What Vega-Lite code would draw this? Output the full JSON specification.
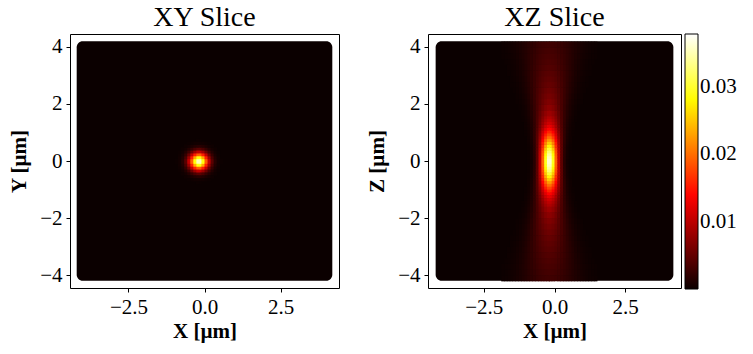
{
 "$schema": "https://vega.github.io/schema/vega-lite/v6.json",
 "background": "white",
 "padding": {"left": 8, "top": 3, "right": 5, "bottom": 3},
 "spacing": 26,
 "config": {
  "font": "Liberation Serif",
  "view": {"stroke": "black", "strokeWidth": 1},
  "axis": {"labelFont": "Liberation Serif", "labelFontSize": 21, "labelColor": "black", "titleFont": "Liberation Serif", "titleFontSize": 21, "titleFontWeight": "bold", "titleColor": "black", "tickColor": "black", "tickSize": 4, "domain": false, "grid": false, "labelPadding": 4},
  "axisX": {"titlePadding": 3},
  "axisY": {"titlePadding": 10},
  "title": {"font": "Liberation Serif", "fontSize": 28, "fontWeight": "normal", "color": "black", "offset": 2},
  "legend": {"labelFont": "Liberation Serif", "labelFontSize": 21, "labelColor": "black", "gradientStrokeColor": "black", "gradientStrokeWidth": 1, "labelOffset": 15, "padding": 0}
 },
 "datasets": {
  "xy": [
   {"x":-0.2,"y":0,"v":0.03514},{"x":-0.2,"y":0.1,"v":0.02858},{"x":-0.2,"y":0.2,"v":0.01891},{"x":-0.2,"y":0.3,"v":0.01017},{"x":-0.2,"y":0.4,"v":0.00445},{"x":-0.2,"y":0.5,"v":0.00158},{"x":-0.2,"y":0.6,"v":0.00046},{"x":-0.2,"y":0.7,"v":0.00011},
   {"x":-0.1,"y":0,"v":0.02858},{"x":-0.1,"y":0.1,"v":0.02325},{"x":-0.1,"y":0.2,"v":0.01538},{"x":-0.1,"y":0.3,"v":0.00827},{"x":-0.1,"y":0.4,"v":0.00362},{"x":-0.1,"y":0.5,"v":0.00129},{"x":-0.1,"y":0.6,"v":0.00037},
   {"x":0,"y":0,"v":0.01891},{"x":0,"y":0.1,"v":0.01538},{"x":0,"y":0.2,"v":0.01017},{"x":0,"y":0.3,"v":0.00547},{"x":0,"y":0.4,"v":0.00239},{"x":0,"y":0.5,"v":0.00085},{"x":0,"y":0.6,"v":0.00025},
   {"x":0.1,"y":0,"v":0.01017},{"x":0.1,"y":0.1,"v":0.00827},{"x":0.1,"y":0.2,"v":0.00547},{"x":0.1,"y":0.3,"v":0.00295},{"x":0.1,"y":0.4,"v":0.00129},{"x":0.1,"y":0.5,"v":0.00046},{"x":0.1,"y":0.6,"v":0.00013},
   {"x":0.2,"y":0,"v":0.00445},{"x":0.2,"y":0.1,"v":0.00362},{"x":0.2,"y":0.2,"v":0.00239},{"x":0.2,"y":0.3,"v":0.00129},{"x":0.2,"y":0.4,"v":0.00056},{"x":0.2,"y":0.5,"v":0.0002},
   {"x":0.3,"y":0,"v":0.00158},{"x":0.3,"y":0.1,"v":0.00129},{"x":0.3,"y":0.2,"v":0.00085},{"x":0.3,"y":0.3,"v":0.00046},{"x":0.3,"y":0.4,"v":0.0002},
   {"x":0.4,"y":0,"v":0.00046},{"x":0.4,"y":0.1,"v":0.00037},{"x":0.4,"y":0.2,"v":0.00025},{"x":0.4,"y":0.3,"v":0.00013},
   {"x":0.5,"y":0,"v":0.00011}
  ],
  "xzn": [
   {"x":-0.2,"z":0,"v":0.03598},{"x":-0.1,"z":0,"v":0.02927},{"x":0,"z":0,"v":0.01937},{"x":0.1,"z":0,"v":0.01043},{"x":0.2,"z":0,"v":0.00457},{"x":0.3,"z":0,"v":0.00163},{"x":0.4,"z":0,"v":0.00047},{"x":0.5,"z":0,"v":0.00011},
   {"x":-0.2,"z":0.1,"v":0.03533},{"x":-0.1,"z":0.1,"v":0.0288},{"x":0,"z":0.1,"v":0.01915},{"x":0.1,"z":0.1,"v":0.01037},{"x":0.2,"z":0.1,"v":0.00459},{"x":0.3,"z":0.1,"v":0.00165},{"x":0.4,"z":0.1,"v":0.00049},{"x":0.5,"z":0.1,"v":0.00012},
   {"x":-0.2,"z":0.2,"v":0.03408},{"x":-0.1,"z":0.2,"v":0.0279},{"x":0,"z":0.2,"v":0.01869},{"x":0.1,"z":0.2,"v":0.01026},{"x":0.2,"z":0.2,"v":0.0046},{"x":0.3,"z":0.2,"v":0.00169},{"x":0.4,"z":0.2,"v":0.00051},{"x":0.5,"z":0.2,"v":0.00013},
   {"x":-0.2,"z":0.3,"v":0.03231},{"x":-0.1,"z":0.3,"v":0.02661},{"x":0,"z":0.3,"v":0.01804},{"x":0.1,"z":0.3,"v":0.01006},{"x":0.2,"z":0.3,"v":0.00462},{"x":0.3,"z":0.3,"v":0.00175},{"x":0.4,"z":0.3,"v":0.00055},{"x":0.5,"z":0.3,"v":0.00014},
   {"x":-0.2,"z":0.4,"v":0.03014},{"x":-0.1,"z":0.4,"v":0.02499},{"x":0,"z":0.4,"v":0.01719},{"x":0.1,"z":0.4,"v":0.0098},{"x":0.2,"z":0.4,"v":0.00463},{"x":0.3,"z":0.4,"v":0.00182},{"x":0.4,"z":0.4,"v":0.00059},{"x":0.5,"z":0.4,"v":0.00016},
   {"x":-0.2,"z":0.5,"v":0.0277},{"x":-0.1,"z":0.5,"v":0.02317},{"x":0,"z":0.5,"v":0.01619},{"x":0.1,"z":0.5,"v":0.00946},{"x":0.2,"z":0.5,"v":0.00463},{"x":0.3,"z":0.5,"v":0.00189},{"x":0.4,"z":0.5,"v":0.00065},{"x":0.5,"z":0.5,"v":0.00018},
   {"x":-0.2,"z":0.6,"v":0.02513},{"x":-0.1,"z":0.6,"v":0.0212},{"x":0,"z":0.6,"v":0.01509},{"x":0.1,"z":0.6,"v":0.00907},{"x":0.2,"z":0.6,"v":0.00459},{"x":0.3,"z":0.6,"v":0.00197},{"x":0.4,"z":0.6,"v":0.00071},{"x":0.5,"z":0.6,"v":0.00021},
   {"x":-0.2,"z":0.7,"v":0.02255},{"x":-0.1,"z":0.7,"v":0.01921},{"x":0,"z":0.7,"v":0.01393},{"x":0.1,"z":0.7,"v":0.0086},{"x":0.2,"z":0.7,"v":0.00453},{"x":0.3,"z":0.7,"v":0.00203},{"x":0.4,"z":0.7,"v":0.00078},{"x":0.5,"z":0.7,"v":0.00026},
   {"x":-0.2,"z":0.8,"v":0.02006},{"x":-0.1,"z":0.8,"v":0.01725},{"x":0,"z":0.8,"v":0.01276},{"x":0.1,"z":0.8,"v":0.00811},{"x":0.2,"z":0.8,"v":0.00443},{"x":0.3,"z":0.8,"v":0.00209},{"x":0.4,"z":0.8,"v":0.00084},{"x":0.5,"z":0.8,"v":0.0003},
   {"x":-0.2,"z":0.9,"v":0.01777},{"x":-0.1,"z":0.9,"v":0.01543},{"x":0,"z":0.9,"v":0.01162},{"x":0.1,"z":0.9,"v":0.0076},{"x":0.2,"z":0.9,"v":0.00431},{"x":0.3,"z":0.9,"v":0.00212},{"x":0.4,"z":0.9,"v":0.00091},{"x":0.5,"z":0.9,"v":0.00034},{"x":0.6,"z":0.9,"v":0.00011},
   {"x":-0.2,"z":1.0,"v":0.0157},{"x":-0.1,"z":1.0,"v":0.01376},{"x":0,"z":1.0,"v":0.01056},{"x":0.1,"z":1.0,"v":0.0071},{"x":0.2,"z":1.0,"v":0.00418},{"x":0.3,"z":1.0,"v":0.00216},{"x":0.4,"z":1.0,"v":0.00098},{"x":0.5,"z":1.0,"v":0.00039},{"x":0.6,"z":1.0,"v":0.00013},
   {"x":-0.2,"z":1.1,"v":0.0139},{"x":-0.1,"z":1.1,"v":0.01229},{"x":0,"z":1.1,"v":0.0096},{"x":0.1,"z":1.1,"v":0.00663},{"x":0.2,"z":1.1,"v":0.00405},{"x":0.3,"z":1.1,"v":0.00219},{"x":0.4,"z":1.1,"v":0.00104},{"x":0.5,"z":1.1,"v":0.00044},{"x":0.6,"z":1.1,"v":0.00017},
   {"x":-0.2,"z":1.2,"v":0.01238},{"x":-0.1,"z":1.2,"v":0.01103},{"x":0,"z":1.2,"v":0.00877},{"x":0.1,"z":1.2,"v":0.00621},{"x":0.2,"z":1.2,"v":0.00392},{"x":0.3,"z":1.2,"v":0.00221},{"x":0.4,"z":1.2,"v":0.00111},{"x":0.5,"z":1.2,"v":0.0005},{"x":0.6,"z":1.2,"v":0.0002},
   {"x":-0.2,"z":1.3,"v":0.0111},{"x":-0.1,"z":1.3,"v":0.00997},{"x":0,"z":1.3,"v":0.00805},{"x":0.1,"z":1.3,"v":0.00584},{"x":0.2,"z":1.3,"v":0.0038},{"x":0.3,"z":1.3,"v":0.00222},{"x":0.4,"z":1.3,"v":0.00117},{"x":0.5,"z":1.3,"v":0.00056},{"x":0.6,"z":1.3,"v":0.00023},
   {"x":-0.2,"z":1.4,"v":0.01005},{"x":-0.1,"z":1.4,"v":0.0091},{"x":0,"z":1.4,"v":0.00745},{"x":0.1,"z":1.4,"v":0.00552},{"x":0.2,"z":1.4,"v":0.00371},{"x":0.3,"z":1.4,"v":0.00226},{"x":0.4,"z":1.4,"v":0.00124},{"x":0.5,"z":1.4,"v":0.00061},{"x":0.6,"z":1.4,"v":0.00028},{"x":0.7,"z":1.4,"v":0.00011},
   {"x":-0.2,"z":1.5,"v":0.0092},{"x":-0.1,"z":1.5,"v":0.00838},{"x":0,"z":1.5,"v":0.00696},{"x":0.1,"z":1.5,"v":0.00527},{"x":0.2,"z":1.5,"v":0.00364},{"x":0.3,"z":1.5,"v":0.00228},{"x":0.4,"z":1.5,"v":0.00131},{"x":0.5,"z":1.5,"v":0.00068},{"x":0.6,"z":1.5,"v":0.00032},{"x":0.7,"z":1.5,"v":0.00014}
  ],
  "xzf": [
   {"x":-0.2,"z":1.6,"v":0.00821},{"x":-0.1,"z":1.6,"v":0.00754},{"x":0,"z":1.6,"v":0.00639},{"x":0.1,"z":1.6,"v":0.00497},{"x":0.2,"z":1.6,"v":0.00356},{"x":0.3,"z":1.6,"v":0.00234},{"x":0.4,"z":1.6,"v":0.00142},{"x":0.5,"z":1.6,"v":0.00079},{"x":0.6,"z":1.6,"v":0.00041},{"x":0.7,"z":1.6,"v":0.00019},
   {"x":-0.2,"z":1.8,"v":0.00725},{"x":-0.1,"z":1.8,"v":0.00675},{"x":0,"z":1.8,"v":0.00583},{"x":0.1,"z":1.8,"v":0.00469},{"x":0.2,"z":1.8,"v":0.0035},{"x":0.3,"z":1.8,"v":0.00244},{"x":0.4,"z":1.8,"v":0.00157},{"x":0.5,"z":1.8,"v":0.00095},{"x":0.6,"z":1.8,"v":0.00053},{"x":0.7,"z":1.8,"v":0.00028},{"x":0.8,"z":1.8,"v":0.00014},
   {"x":-0.2,"z":2.0,"v":0.00656},{"x":-0.1,"z":2.0,"v":0.00616},{"x":0,"z":2.0,"v":0.00542},{"x":0.1,"z":2.0,"v":0.00448},{"x":0.2,"z":2.0,"v":0.00348},{"x":0.3,"z":2.0,"v":0.00253},{"x":0.4,"z":2.0,"v":0.00173},{"x":0.5,"z":2.0,"v":0.0011},{"x":0.6,"z":2.0,"v":0.00066},{"x":0.7,"z":2.0,"v":0.00038},{"x":0.8,"z":2.0,"v":0.0002},{"x":0.9,"z":2.0,"v":0.0001},
   {"x":-0.2,"z":2.2,"v":0.006},{"x":-0.1,"z":2.2,"v":0.00568},{"x":0,"z":2.2,"v":0.00508},{"x":0.1,"z":2.2,"v":0.00429},{"x":0.2,"z":2.2,"v":0.00344},{"x":0.3,"z":2.2,"v":0.00259},{"x":0.4,"z":2.2,"v":0.00185},{"x":0.5,"z":2.2,"v":0.00126},{"x":0.6,"z":2.2,"v":0.00081},{"x":0.7,"z":2.2,"v":0.00049},{"x":0.8,"z":2.2,"v":0.00028},{"x":0.9,"z":2.2,"v":0.00015},
   {"x":-0.2,"z":2.4,"v":0.00553},{"x":-0.1,"z":2.4,"v":0.00526},{"x":0,"z":2.4,"v":0.00477},{"x":0.1,"z":2.4,"v":0.00411},{"x":0.2,"z":2.4,"v":0.00338},{"x":0.3,"z":2.4,"v":0.00263},{"x":0.4,"z":2.4,"v":0.00196},{"x":0.5,"z":2.4,"v":0.00139},{"x":0.6,"z":2.4,"v":0.00094},{"x":0.7,"z":2.4,"v":0.0006},{"x":0.8,"z":2.4,"v":0.00037},{"x":0.9,"z":2.4,"v":0.00021},{"x":1.0,"z":2.4,"v":0.00012},
   {"x":-0.2,"z":2.6,"v":0.0051},{"x":-0.1,"z":2.6,"v":0.00488},{"x":0,"z":2.6,"v":0.00447},{"x":0.1,"z":2.6,"v":0.00392},{"x":0.2,"z":2.6,"v":0.00329},{"x":0.3,"z":2.6,"v":0.00264},{"x":0.4,"z":2.6,"v":0.00203},{"x":0.5,"z":2.6,"v":0.00149},{"x":0.6,"z":2.6,"v":0.00105},{"x":0.7,"z":2.6,"v":0.00071},{"x":0.8,"z":2.6,"v":0.00046},{"x":0.9,"z":2.6,"v":0.00028},{"x":1.0,"z":2.6,"v":0.00017},{"x":1.1,"z":2.6,"v":0.0001},
   {"x":-0.2,"z":2.8,"v":0.00471},{"x":-0.1,"z":2.8,"v":0.00453},{"x":0,"z":2.8,"v":0.00418},{"x":0.1,"z":2.8,"v":0.00373},{"x":0.2,"z":2.8,"v":0.00318},{"x":0.3,"z":2.8,"v":0.00262},{"x":0.4,"z":2.8,"v":0.00207},{"x":0.5,"z":2.8,"v":0.00158},{"x":0.6,"z":2.8,"v":0.00115},{"x":0.7,"z":2.8,"v":0.00081},{"x":0.8,"z":2.8,"v":0.00055},{"x":0.9,"z":2.8,"v":0.00036},{"x":1.0,"z":2.8,"v":0.00023},{"x":1.1,"z":2.8,"v":0.00014},
   {"x":-0.2,"z":3.0,"v":0.00437},{"x":-0.1,"z":3.0,"v":0.00422},{"x":0,"z":3.0,"v":0.00394},{"x":0.1,"z":3.0,"v":0.00354},{"x":0.2,"z":3.0,"v":0.00308},{"x":0.3,"z":3.0,"v":0.00259},{"x":0.4,"z":3.0,"v":0.0021},{"x":0.5,"z":3.0,"v":0.00164},{"x":0.6,"z":3.0,"v":0.00124},{"x":0.7,"z":3.0,"v":0.0009},{"x":0.8,"z":3.0,"v":0.00064},{"x":0.9,"z":3.0,"v":0.00043},{"x":1.0,"z":3.0,"v":0.00029},{"x":1.1,"z":3.0,"v":0.00018},{"x":1.2,"z":3.0,"v":0.00011},
   {"x":-0.2,"z":3.2,"v":0.00404},{"x":-0.1,"z":3.2,"v":0.00391},{"x":0,"z":3.2,"v":0.00367},{"x":0.1,"z":3.2,"v":0.00334},{"x":0.2,"z":3.2,"v":0.00295},{"x":0.3,"z":3.2,"v":0.00252},{"x":0.4,"z":3.2,"v":0.00208},{"x":0.5,"z":3.2,"v":0.00167},{"x":0.6,"z":3.2,"v":0.0013},{"x":0.7,"z":3.2,"v":0.00098},{"x":0.8,"z":3.2,"v":0.00071},{"x":0.9,"z":3.2,"v":0.0005},{"x":1.0,"z":3.2,"v":0.00035},{"x":1.1,"z":3.2,"v":0.00023},{"x":1.2,"z":3.2,"v":0.00015},
   {"x":-0.2,"z":3.4,"v":0.00374},{"x":-0.1,"z":3.4,"v":0.00363},{"x":0,"z":3.4,"v":0.00343},{"x":0.1,"z":3.4,"v":0.00315},{"x":0.2,"z":3.4,"v":0.00281},{"x":0.3,"z":3.4,"v":0.00244},{"x":0.4,"z":3.4,"v":0.00205},{"x":0.5,"z":3.4,"v":0.00168},{"x":0.6,"z":3.4,"v":0.00134},{"x":0.7,"z":3.4,"v":0.00104},{"x":0.8,"z":3.4,"v":0.00078},{"x":0.9,"z":3.4,"v":0.00057},{"x":1.0,"z":3.4,"v":0.0004},{"x":1.1,"z":3.4,"v":0.00028},{"x":1.2,"z":3.4,"v":0.00019},{"x":1.3,"z":3.4,"v":0.00012},
   {"x":-0.2,"z":3.6,"v":0.00347},{"x":-0.1,"z":3.6,"v":0.00338},{"x":0,"z":3.6,"v":0.00321},{"x":0.1,"z":3.6,"v":0.00297},{"x":0.2,"z":3.6,"v":0.00268},{"x":0.3,"z":3.6,"v":0.00235},{"x":0.4,"z":3.6,"v":0.00201},{"x":0.5,"z":3.6,"v":0.00168},{"x":0.6,"z":3.6,"v":0.00137},{"x":0.7,"z":3.6,"v":0.00108},{"x":0.8,"z":3.6,"v":0.00084},{"x":0.9,"z":3.6,"v":0.00063},{"x":1.0,"z":3.6,"v":0.00046},{"x":1.1,"z":3.6,"v":0.00033},{"x":1.2,"z":3.6,"v":0.00023},{"x":1.3,"z":3.6,"v":0.00016},{"x":1.4,"z":3.6,"v":0.0001},
   {"x":-0.2,"z":3.8,"v":0.00322},{"x":-0.1,"z":3.8,"v":0.00315},{"x":0,"z":3.8,"v":0.003},{"x":0.1,"z":3.8,"v":0.0028},{"x":0.2,"z":3.8,"v":0.00255},{"x":0.3,"z":3.8,"v":0.00226},{"x":0.4,"z":3.8,"v":0.00196},{"x":0.5,"z":3.8,"v":0.00167},{"x":0.6,"z":3.8,"v":0.00138},{"x":0.7,"z":3.8,"v":0.00112},{"x":0.8,"z":3.8,"v":0.00088},{"x":0.9,"z":3.8,"v":0.00068},{"x":1.0,"z":3.8,"v":0.00051},{"x":1.1,"z":3.8,"v":0.00038},{"x":1.2,"z":3.8,"v":0.00027},{"x":1.3,"z":3.8,"v":0.00019},{"x":1.4,"z":3.8,"v":0.00013},
   {"x":-0.2,"z":4.0,"v":0.003},{"x":-0.1,"z":4.0,"v":0.00294},{"x":0,"z":4.0,"v":0.00281},{"x":0.1,"z":4.0,"v":0.00264},{"x":0.2,"z":4.0,"v":0.00242},{"x":0.3,"z":4.0,"v":0.00217},{"x":0.4,"z":4.0,"v":0.00191},{"x":0.5,"z":4.0,"v":0.00164},{"x":0.6,"z":4.0,"v":0.00138},{"x":0.7,"z":4.0,"v":0.00114},{"x":0.8,"z":4.0,"v":0.00092},{"x":0.9,"z":4.0,"v":0.00072},{"x":1.0,"z":4.0,"v":0.00056},{"x":1.1,"z":4.0,"v":0.00042},{"x":1.2,"z":4.0,"v":0.00031},{"x":1.3,"z":4.0,"v":0.00023},{"x":1.4,"z":4.0,"v":0.00016}
  ]
 },
 "hconcat": [
  {
   "title": "XY Slice",
   "width": 269, "height": 254,
   "resolve": {"scale": {"x": "independent", "y": "independent"}},
   "layer": [
    {"data": {"values": [{}]}, "mark": {"type": "rect", "fill": "#0b0000", "cornerRadius": 6},
     "encoding": {
      "x": {"datum": -4.2, "type": "quantitative", "scale": {"domain": [-4.42, 4.42], "nice": false, "zero": false}, "axis": {"title": "X [µm]", "values": [-2.5, 0, 2.5], "format": ".1f"}},
      "x2": {"datum": 4.2},
      "y": {"datum": -4.2, "type": "quantitative", "scale": {"domain": [-4.45, 4.45], "nice": false, "zero": false}, "axis": {"title": "Y [µm]", "values": [-4, -2, 0, 2, 4], "format": "d"}},
      "y2": {"datum": 4.2}
     }},
    {"data": {"name": "xy"}, "mark": {"type": "rect", "binSpacing": 0, "x2Offset": -0.5, "y2Offset": 0.5},
     "encoding": {
      "x": {"field": "x", "type": "quantitative", "bin": {"binned": true, "step": 0.1}, "scale": {"domain": [-4.42, 4.42], "nice": false, "zero": false}, "axis": null},
      "y": {"field": "y", "type": "quantitative", "bin": {"binned": true, "step": 0.1}, "scale": {"domain": [-4.45, 4.45], "nice": false, "zero": false}, "axis": null},
      "color": {"field": "v", "type": "quantitative", "scale": {"domain": [0, 0.0138, 0.0282, 0.0378], "range": ["#0b0000", "#ff0000", "#ffff00", "#ffffff"], "interpolate": "rgb", "clamp": true},
        "legend": {"type": "gradient", "orient": "none", "legendX": 615, "legendY": 0, "direction": "vertical", "gradientLength": 255, "gradientThickness": 13, "title": null, "values": [0.01, 0.02, 0.03], "format": ".2f"}}
     }},
    {"data": {"name": "xy"}, "mark": {"type": "rect", "binSpacing": 0, "x2Offset": -0.5, "y2Offset": 0.5},
     "encoding": {
      "x": {"field": "x", "type": "quantitative", "bin": {"binned": true, "step": 0.1}, "scale": {"domain": [-4.82, 4.02], "reverse": true, "nice": false, "zero": false}, "axis": null},
      "y": {"field": "y", "type": "quantitative", "bin": {"binned": true, "step": 0.1}, "scale": {"domain": [-4.45, 4.45], "nice": false, "zero": false}, "axis": null},
      "color": {"field": "v", "type": "quantitative"}
     }},
    {"data": {"name": "xy"}, "mark": {"type": "rect", "binSpacing": 0, "x2Offset": -0.5, "y2Offset": 0.5},
     "encoding": {
      "x": {"field": "x", "type": "quantitative", "bin": {"binned": true, "step": 0.1}, "scale": {"domain": [-4.42, 4.42], "nice": false, "zero": false}, "axis": null},
      "y": {"field": "y", "type": "quantitative", "bin": {"binned": true, "step": 0.1}, "scale": {"domain": [-4.45, 4.45], "reverse": true, "nice": false, "zero": false}, "axis": null},
      "color": {"field": "v", "type": "quantitative"}
     }},
    {"data": {"name": "xy"}, "mark": {"type": "rect", "binSpacing": 0, "x2Offset": -0.5, "y2Offset": 0.5},
     "encoding": {
      "x": {"field": "x", "type": "quantitative", "bin": {"binned": true, "step": 0.1}, "scale": {"domain": [-4.82, 4.02], "reverse": true, "nice": false, "zero": false}, "axis": null},
      "y": {"field": "y", "type": "quantitative", "bin": {"binned": true, "step": 0.1}, "scale": {"domain": [-4.45, 4.45], "reverse": true, "nice": false, "zero": false}, "axis": null},
      "color": {"field": "v", "type": "quantitative"}
     }}
   ]
  },
  {
   "title": "XZ Slice",
   "width": 253, "height": 254,
   "resolve": {"scale": {"x": "independent", "y": "independent"}},
   "layer": [
    {"data": {"values": [{}]}, "mark": {"type": "rect", "fill": "#0b0000", "cornerRadius": 6},
     "encoding": {
      "x": {"datum": -4.2, "type": "quantitative", "scale": {"domain": [-4.47, 4.47], "nice": false, "zero": false}, "axis": {"title": "X [µm]", "values": [-2.5, 0, 2.5], "format": ".1f"}},
      "x2": {"datum": 4.2},
      "y": {"datum": -4.2, "type": "quantitative", "scale": {"domain": [-4.45, 4.45], "nice": false, "zero": false}, "axis": {"title": "Z [µm]", "values": [-4, -2, 0, 2, 4], "format": "d"}},
      "y2": {"datum": 4.2}
     }},
    {"data": {"name": "xzn"}, "mark": {"type": "rect", "binSpacing": 0, "x2Offset": -0.5, "y2Offset": 0.5},
     "encoding": {
      "x": {"field": "x", "type": "quantitative", "bin": {"binned": true, "step": 0.1}, "scale": {"domain": [-4.47, 4.47], "nice": false, "zero": false}, "axis": null},
      "y": {"field": "z", "type": "quantitative", "bin": {"binned": true, "step": 0.1}, "scale": {"domain": [-4.45, 4.45], "nice": false, "zero": false}, "axis": null},
      "color": {"field": "v", "type": "quantitative"}
     }},
    {"data": {"name": "xzn"}, "mark": {"type": "rect", "binSpacing": 0, "x2Offset": -0.5, "y2Offset": 0.5},
     "encoding": {
      "x": {"field": "x", "type": "quantitative", "bin": {"binned": true, "step": 0.1}, "scale": {"domain": [-4.87, 4.07], "reverse": true, "nice": false, "zero": false}, "axis": null},
      "y": {"field": "z", "type": "quantitative", "bin": {"binned": true, "step": 0.1}, "scale": {"domain": [-4.45, 4.45], "nice": false, "zero": false}, "axis": null},
      "color": {"field": "v", "type": "quantitative"}
     }},
    {"data": {"name": "xzn"}, "mark": {"type": "rect", "binSpacing": 0, "x2Offset": -0.5, "y2Offset": 0.5},
     "encoding": {
      "x": {"field": "x", "type": "quantitative", "bin": {"binned": true, "step": 0.1}, "scale": {"domain": [-4.47, 4.47], "nice": false, "zero": false}, "axis": null},
      "y": {"field": "z", "type": "quantitative", "bin": {"binned": true, "step": 0.1}, "scale": {"domain": [-4.45, 4.45], "reverse": true, "nice": false, "zero": false}, "axis": null},
      "color": {"field": "v", "type": "quantitative"}
     }},
    {"data": {"name": "xzn"}, "mark": {"type": "rect", "binSpacing": 0, "x2Offset": -0.5, "y2Offset": 0.5},
     "encoding": {
      "x": {"field": "x", "type": "quantitative", "bin": {"binned": true, "step": 0.1}, "scale": {"domain": [-4.87, 4.07], "reverse": true, "nice": false, "zero": false}, "axis": null},
      "y": {"field": "z", "type": "quantitative", "bin": {"binned": true, "step": 0.1}, "scale": {"domain": [-4.45, 4.45], "reverse": true, "nice": false, "zero": false}, "axis": null},
      "color": {"field": "v", "type": "quantitative"}
     }},
    {"data": {"name": "xzf"}, "mark": {"type": "rect", "binSpacing": 0, "x2Offset": -0.5, "y2Offset": 0.5},
     "encoding": {
      "x": {"field": "x", "type": "quantitative", "bin": {"binned": true, "step": 0.1}, "scale": {"domain": [-4.47, 4.47], "nice": false, "zero": false}, "axis": null},
      "y": {"field": "z", "type": "quantitative", "bin": {"binned": true, "step": 0.2}, "scale": {"domain": [-4.45, 4.45], "nice": false, "zero": false}, "axis": null},
      "color": {"field": "v", "type": "quantitative"}
     }},
    {"data": {"name": "xzf"}, "mark": {"type": "rect", "binSpacing": 0, "x2Offset": -0.5, "y2Offset": 0.5},
     "encoding": {
      "x": {"field": "x", "type": "quantitative", "bin": {"binned": true, "step": 0.1}, "scale": {"domain": [-4.87, 4.07], "reverse": true, "nice": false, "zero": false}, "axis": null},
      "y": {"field": "z", "type": "quantitative", "bin": {"binned": true, "step": 0.2}, "scale": {"domain": [-4.45, 4.45], "nice": false, "zero": false}, "axis": null},
      "color": {"field": "v", "type": "quantitative"}
     }},
    {"data": {"name": "xzf"}, "mark": {"type": "rect", "binSpacing": 0, "x2Offset": -0.5, "y2Offset": 0.5},
     "encoding": {
      "x": {"field": "x", "type": "quantitative", "bin": {"binned": true, "step": 0.1}, "scale": {"domain": [-4.47, 4.47], "nice": false, "zero": false}, "axis": null},
      "y": {"field": "z", "type": "quantitative", "bin": {"binned": true, "step": 0.2}, "scale": {"domain": [-4.45, 4.45], "reverse": true, "nice": false, "zero": false}, "axis": null},
      "color": {"field": "v", "type": "quantitative"}
     }},
    {"data": {"name": "xzf"}, "mark": {"type": "rect", "binSpacing": 0, "x2Offset": -0.5, "y2Offset": 0.5},
     "encoding": {
      "x": {"field": "x", "type": "quantitative", "bin": {"binned": true, "step": 0.1}, "scale": {"domain": [-4.87, 4.07], "reverse": true, "nice": false, "zero": false}, "axis": null},
      "y": {"field": "z", "type": "quantitative", "bin": {"binned": true, "step": 0.2}, "scale": {"domain": [-4.45, 4.45], "reverse": true, "nice": false, "zero": false}, "axis": null},
      "color": {"field": "v", "type": "quantitative"}
     }}
   ]
  }
 ],
 "resolve": {"scale": {"color": "shared"}}
}
